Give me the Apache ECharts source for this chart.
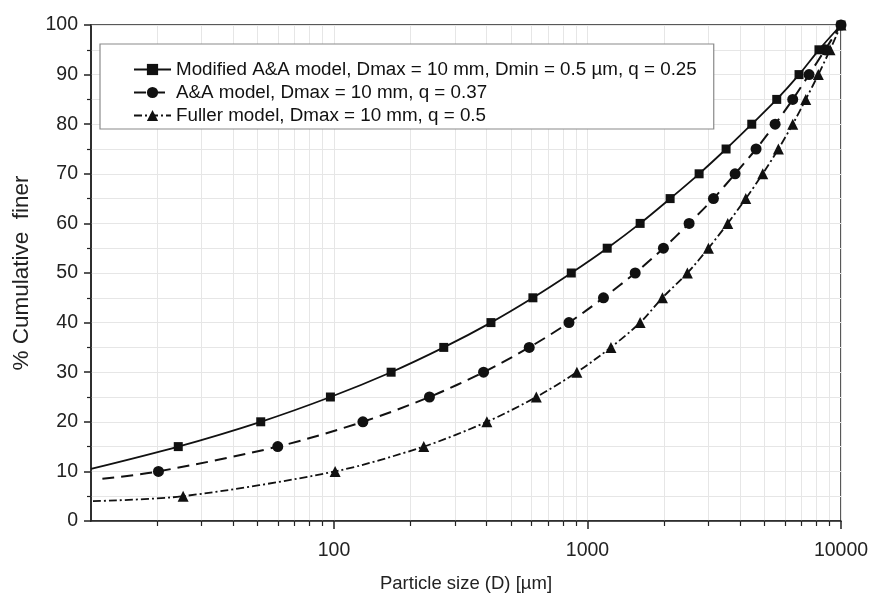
<!DOCTYPE html>
<html><head><meta charset="utf-8">
<script src="https://cdn.jsdelivr.net/npm/echarts@6/dist/echarts.min.js"></script>
<style>html,body{margin:0;padding:0;background:#fff}#c{width:869px;height:602px}</style>
</head><body><div id="c"></div>
<script>
// ---- data ----
const seriesNames = [
  'Modified A&A model, Dmax = 10 mm, Dmin = 0.5 \u00b5m, q = 0.25',
  'A&A model, Dmax = 10 mm, q = 0.37',
  'Fuller model, Dmax = 10 mm, q = 0.5'
];
// Modified A&A (squares)
const modD = [24.3, 51.4, 96.8, 168, 271, 416, 609, 863, 1196, 1613, 2118, 2756, 3521, 4446, 5578, 6830, 8185, 10000];
const modP = [15, 20, 25, 30, 35, 40, 45, 50, 55, 60, 65, 70, 75, 80, 85, 90, 95, 100];
const modStart = [11, 10.5];
// A&A (circles)
const aaD = [20.3, 60, 130, 238, 389, 589, 845, 1156, 1542, 1993, 2517, 3139, 3821, 4624, 5497, 6451, 7482, 8650, 10000];
const aaP = [10, 15, 20, 25, 30, 35, 40, 45, 50, 55, 60, 65, 70, 75, 80, 85, 90, 95, 100];
const aaStart = [12.2, 8.5];
// Fuller (triangles)
const fulD = [25.4, 101, 226, 401, 628, 908, 1237, 1613, 1975, 2478, 2999, 3575, 4211, 4914, 5661, 6451, 7259, 8139, 9052, 10000];
const fulP = [5, 10, 15, 20, 25, 30, 35, 40, 45, 50, 55, 60, 65, 70, 75, 80, 85, 90, 95, 100];
const fulStart = [11.2, 4.0];

// axis ticks
const xMajorTicks = [100, 1000, 10000];
const xMinorTicks = [20, 30, 40, 50, 60, 70, 80, 90, 200, 300, 400, 500, 600, 700, 800, 900, 2000, 3000, 4000, 5000, 6000, 7000, 8000, 9000];
const xMin = 11, xMax = 10000;
const yMin = 0, yMax = 100, yStep = 10;

// ---- build ----
function build(start, D, P) {
  const out = [{ value: start, symbol: 'none' }];
  for (let i = 0; i < D.length; i++) out.push([D[i], P[i]]);
  return out;
}
const FONT = 'Liberation Sans, Arial, sans-serif';
const gridColor = '#e6e6e6';
const chart = echarts.init(document.getElementById('c'), null, { renderer: 'canvas' });
chart.setOption({
  animation: false,
  backgroundColor: '#fff',
  grid: { left: 91, right: 28, top: 25, bottom: 81, show: true, borderColor: '#222', borderWidth: 1.5, backgroundColor: 'transparent', outerBoundsMode: 'none' },
  legend: {
    orient: 'vertical', left: 100, top: 44,
    padding: [16, 17, 4, 33],
    itemGap: 4, itemWidth: 37, itemHeight: 14,
    backgroundColor: '#fff', borderColor: '#8a8a8a', borderWidth: 1.2, borderRadius: 0,
    selectedMode: false,
    textStyle: { fontFamily: FONT, fontSize: 18.8, color: '#111', lineHeight: 18 },
    data: seriesNames
  },
  xAxis: [{
    type: 'log', min: xMin, max: xMax, position: 'bottom',
    name: 'Particle size (D) [\u00b5m]', nameLocation: 'middle', nameGap: 53,
    nameTextStyle: { fontFamily: FONT, fontSize: 18.5, color: '#222' },
    axisLine: { show: true, lineStyle: { color: '#222', width: 1.5 } },
    axisTick: { show: true, customValues: xMajorTicks, length: 8, lineStyle: { color: '#222', width: 1.5 } },
    axisLabel: { customValues: xMajorTicks, fontFamily: FONT, fontSize: 19.5, color: '#222', margin: 20,
      formatter: v => String(Math.round(v)) },
    splitLine: { show: true, lineStyle: { color: gridColor, width: 1 } },
    minorTick: { show: false }, minorSplitLine: { show: false }
  }, {
    type: 'log', min: xMin, max: xMax, position: 'bottom', offset: 0,
    axisLine: { show: false },
    axisTick: { show: true, customValues: xMinorTicks, length: 5, lineStyle: { color: '#222', width: 1.2 } },
    axisLabel: { show: false },
    splitLine: { show: true, lineStyle: { color: gridColor, width: 1 } }
  }],
  yAxis: {
    type: 'value', min: yMin, max: yMax, interval: yStep,
    name: '% Cumulative  finer', nameLocation: 'middle', nameGap: 58, nameRotate: 90,
    nameTextStyle: { fontFamily: FONT, fontSize: 22.5, color: '#222' },
    axisLine: { show: true, lineStyle: { color: '#222', width: 1.5 } },
    axisTick: { show: true, length: 7, lineStyle: { color: '#222', width: 1.5 } },
    minorTick: { show: true, splitNumber: 2, length: 4, lineStyle: { color: '#222', width: 1.2 } },
    axisLabel: { fontFamily: FONT, fontSize: 19.5, color: '#222', margin: 13 },
    splitLine: { show: true, lineStyle: { color: gridColor, width: 1 } },
    minorSplitLine: { show: true, lineStyle: { color: gridColor, width: 1 } }
  },
  series: [{
    name: seriesNames[0], type: 'line', xAxisIndex: 0, smooth: 0.3,
    data: build(modStart, modD, modP),
    symbol: 'rect', symbolSize: 9, showAllSymbol: true,
    itemStyle: { color: '#111' },
    lineStyle: { color: '#111', width: 1.8, type: 'solid' }, z: 5
  }, {
    name: seriesNames[1], type: 'line', xAxisIndex: 0, smooth: 0.3,
    data: build(aaStart, aaD, aaP),
    symbol: 'circle', symbolSize: 11, showAllSymbol: true,
    itemStyle: { color: '#111' },
    lineStyle: { color: '#111', width: 2, type: [12, 7] }, z: 4
  }, {
    name: seriesNames[2], type: 'line', xAxisIndex: 0, smooth: 0.3,
    data: build(fulStart, fulD, fulP),
    symbol: 'triangle', symbolSize: 11, showAllSymbol: true,
    itemStyle: { color: '#111' },
    lineStyle: { color: '#111', width: 1.8, type: [8, 3, 2, 3] }, z: 3
  }]
});
</script></body></html>
